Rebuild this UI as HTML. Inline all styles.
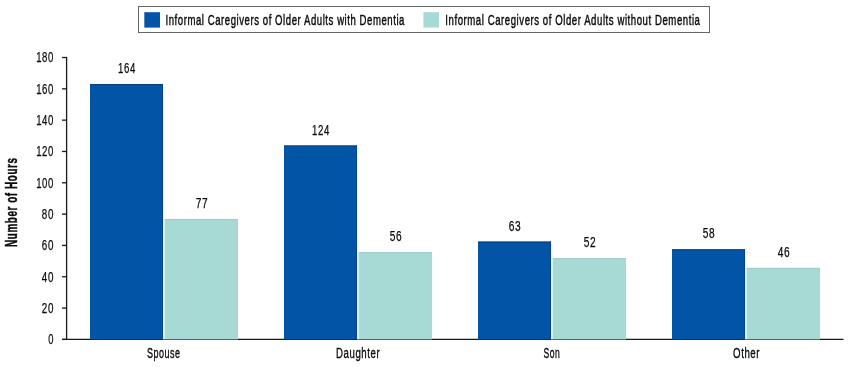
<!DOCTYPE html>
<html><head><meta charset="utf-8"><style>
html,body{margin:0;padding:0;background:#fff;width:850px;height:367px;overflow:hidden}
svg{display:block;will-change:transform}
text{font-family:"Liberation Sans",sans-serif;fill:#0a0a0a;stroke:#0a0a0a;stroke-width:0.45px;letter-spacing:0.9px}
</style></head><body>
<svg width="850" height="367" viewBox="0 0 850 367">
<rect x="138.5" y="6.5" width="571" height="26" fill="#fff" stroke="#666" stroke-width="1"/>
<rect x="144.3" y="12.2" width="15.7" height="15.4" fill="#0255a6"/>
<text x="165.5" y="25.2" font-size="15.5" font-weight="normal" textLength="239.5" lengthAdjust="spacingAndGlyphs" text-anchor="start" >Informal Caregivers of Older Adults with Dementia</text>
<rect x="423.4" y="12.2" width="15.6" height="15.4" fill="#a7d9d5"/>
<text x="445.3" y="25.2" font-size="15.5" font-weight="normal" textLength="255.2" lengthAdjust="spacingAndGlyphs" text-anchor="start" >Informal Caregivers of Older Adults without Dementia</text>
<line x1="66.6" y1="57" x2="66.6" y2="339.9" stroke="#1a1a1a" stroke-width="1.3"/>
<line x1="62" y1="339.4" x2="843.5" y2="339.4" stroke="#1a1a1a" stroke-width="1.3"/>
<line x1="62" y1="339.40" x2="67" y2="339.40" stroke="#1a1a1a" stroke-width="1.3"/>
<text x="54" y="344.29999999999995" font-size="14.2" font-weight="normal" textLength="5.8" lengthAdjust="spacingAndGlyphs" text-anchor="end"  style="stroke-width:0.25px">0</text>
<line x1="62" y1="308.08" x2="67" y2="308.08" stroke="#1a1a1a" stroke-width="1.3"/>
<text x="54" y="312.97777777777776" font-size="14.2" font-weight="normal" textLength="12.2" lengthAdjust="spacingAndGlyphs" text-anchor="end"  style="stroke-width:0.25px">20</text>
<line x1="62" y1="276.76" x2="67" y2="276.76" stroke="#1a1a1a" stroke-width="1.3"/>
<text x="54" y="281.6555555555555" font-size="14.2" font-weight="normal" textLength="12.2" lengthAdjust="spacingAndGlyphs" text-anchor="end"  style="stroke-width:0.25px">40</text>
<line x1="62" y1="245.43" x2="67" y2="245.43" stroke="#1a1a1a" stroke-width="1.3"/>
<text x="54" y="250.33333333333334" font-size="14.2" font-weight="normal" textLength="12.2" lengthAdjust="spacingAndGlyphs" text-anchor="end"  style="stroke-width:0.25px">60</text>
<line x1="62" y1="214.11" x2="67" y2="214.11" stroke="#1a1a1a" stroke-width="1.3"/>
<text x="54" y="219.0111111111111" font-size="14.2" font-weight="normal" textLength="12.2" lengthAdjust="spacingAndGlyphs" text-anchor="end"  style="stroke-width:0.25px">80</text>
<line x1="62" y1="182.79" x2="67" y2="182.79" stroke="#1a1a1a" stroke-width="1.3"/>
<text x="54" y="187.6888888888889" font-size="14.2" font-weight="normal" textLength="17.8" lengthAdjust="spacingAndGlyphs" text-anchor="end"  style="stroke-width:0.25px">100</text>
<line x1="62" y1="151.47" x2="67" y2="151.47" stroke="#1a1a1a" stroke-width="1.3"/>
<text x="54" y="156.36666666666667" font-size="14.2" font-weight="normal" textLength="17.8" lengthAdjust="spacingAndGlyphs" text-anchor="end"  style="stroke-width:0.25px">120</text>
<line x1="62" y1="120.14" x2="67" y2="120.14" stroke="#1a1a1a" stroke-width="1.3"/>
<text x="54" y="125.04444444444445" font-size="14.2" font-weight="normal" textLength="17.8" lengthAdjust="spacingAndGlyphs" text-anchor="end"  style="stroke-width:0.25px">140</text>
<line x1="62" y1="88.82" x2="67" y2="88.82" stroke="#1a1a1a" stroke-width="1.3"/>
<text x="54" y="93.72222222222223" font-size="14.2" font-weight="normal" textLength="17.8" lengthAdjust="spacingAndGlyphs" text-anchor="end"  style="stroke-width:0.25px">160</text>
<line x1="62" y1="57.50" x2="67" y2="57.50" stroke="#1a1a1a" stroke-width="1.3"/>
<text x="54" y="62.4" font-size="14.2" font-weight="normal" textLength="17.8" lengthAdjust="spacingAndGlyphs" text-anchor="end"  style="stroke-width:0.25px">180</text>
<rect x="90" y="84.0" width="73" height="255.39999999999998" fill="#0255a6"/>
<rect x="90" y="84.0" width="73" height="1" fill="#053f80"/>
<rect x="162" y="84.0" width="1" height="255.39999999999998" fill="#064588"/>
<rect x="163" y="84.0" width="1" height="135.0" fill="#e6f6fc"/>
<rect x="163" y="219.0" width="2" height="120.39999999999998" fill="#d8f2fb"/>
<text x="127.0" y="73.0" font-size="14.2" font-weight="normal" textLength="17.8" lengthAdjust="spacingAndGlyphs" text-anchor="middle"  style="stroke-width:0.25px">164</text>
<rect x="165" y="219.0" width="73" height="120.39999999999998" fill="#a7d9d5"/>
<rect x="165" y="219.0" width="73" height="1" fill="#9dcdc9"/>
<text x="202.0" y="208.0" font-size="14.2" font-weight="normal" textLength="12.6" lengthAdjust="spacingAndGlyphs" text-anchor="middle"  style="stroke-width:0.25px">77</text>
<rect x="284" y="145.5" width="73" height="193.89999999999998" fill="#0255a6"/>
<rect x="284" y="145.5" width="73" height="1" fill="#053f80"/>
<rect x="356" y="145.5" width="1" height="193.89999999999998" fill="#064588"/>
<rect x="357" y="145.5" width="1" height="106.6" fill="#e6f6fc"/>
<rect x="357" y="252.1" width="2" height="87.29999999999998" fill="#d8f2fb"/>
<text x="321.0" y="134.5" font-size="14.2" font-weight="normal" textLength="17.8" lengthAdjust="spacingAndGlyphs" text-anchor="middle"  style="stroke-width:0.25px">124</text>
<rect x="359" y="252.1" width="73" height="87.29999999999998" fill="#a7d9d5"/>
<rect x="359" y="252.1" width="73" height="1" fill="#9dcdc9"/>
<text x="396.0" y="241.1" font-size="14.2" font-weight="normal" textLength="12.6" lengthAdjust="spacingAndGlyphs" text-anchor="middle"  style="stroke-width:0.25px">56</text>
<rect x="478" y="241.6" width="73" height="97.79999999999998" fill="#0255a6"/>
<rect x="478" y="241.6" width="73" height="1" fill="#053f80"/>
<rect x="550" y="241.6" width="1" height="97.79999999999998" fill="#064588"/>
<rect x="551" y="241.6" width="1" height="16.400000000000006" fill="#e6f6fc"/>
<rect x="551" y="258.0" width="2" height="81.39999999999998" fill="#d8f2fb"/>
<text x="515.0" y="230.6" font-size="14.2" font-weight="normal" textLength="12.6" lengthAdjust="spacingAndGlyphs" text-anchor="middle"  style="stroke-width:0.25px">63</text>
<rect x="553" y="258.0" width="73" height="81.39999999999998" fill="#a7d9d5"/>
<rect x="553" y="258.0" width="73" height="1" fill="#9dcdc9"/>
<text x="590.0" y="247.0" font-size="14.2" font-weight="normal" textLength="12.6" lengthAdjust="spacingAndGlyphs" text-anchor="middle"  style="stroke-width:0.25px">52</text>
<rect x="672" y="249.3" width="73" height="90.09999999999997" fill="#0255a6"/>
<rect x="672" y="249.3" width="73" height="1" fill="#053f80"/>
<rect x="744" y="249.3" width="1" height="90.09999999999997" fill="#064588"/>
<rect x="745" y="249.3" width="1" height="18.599999999999966" fill="#e6f6fc"/>
<rect x="745" y="267.9" width="2" height="71.5" fill="#d8f2fb"/>
<text x="709.0" y="238.3" font-size="14.2" font-weight="normal" textLength="12.6" lengthAdjust="spacingAndGlyphs" text-anchor="middle"  style="stroke-width:0.25px">58</text>
<rect x="747" y="267.9" width="73" height="71.5" fill="#a7d9d5"/>
<rect x="747" y="267.9" width="73" height="1" fill="#9dcdc9"/>
<text x="784.0" y="256.9" font-size="14.2" font-weight="normal" textLength="12.6" lengthAdjust="spacingAndGlyphs" text-anchor="middle"  style="stroke-width:0.25px">46</text>
<text x="147.0" y="357.6" font-size="15.3" font-weight="normal" textLength="33.6" lengthAdjust="spacingAndGlyphs" text-anchor="start"  style="stroke-width:0.35px">Spouse</text>
<text x="336.0" y="357.6" font-size="15.3" font-weight="normal" textLength="44.2" lengthAdjust="spacingAndGlyphs" text-anchor="start"  style="stroke-width:0.35px">Daughter</text>
<text x="543.5" y="357.6" font-size="15.3" font-weight="normal" textLength="16.8" lengthAdjust="spacingAndGlyphs" text-anchor="start"  style="stroke-width:0.35px">Son</text>
<text x="733.1" y="357.6" font-size="15.3" font-weight="normal" textLength="27.0" lengthAdjust="spacingAndGlyphs" text-anchor="start"  style="stroke-width:0.35px">Other</text>
<text x="0" y="0" font-size="15.8" font-weight="bold" textLength="89.5" lengthAdjust="spacingAndGlyphs" text-anchor="middle" transform="translate(17,202.2) rotate(-90)">Number of Hours</text>
</svg></body></html>
